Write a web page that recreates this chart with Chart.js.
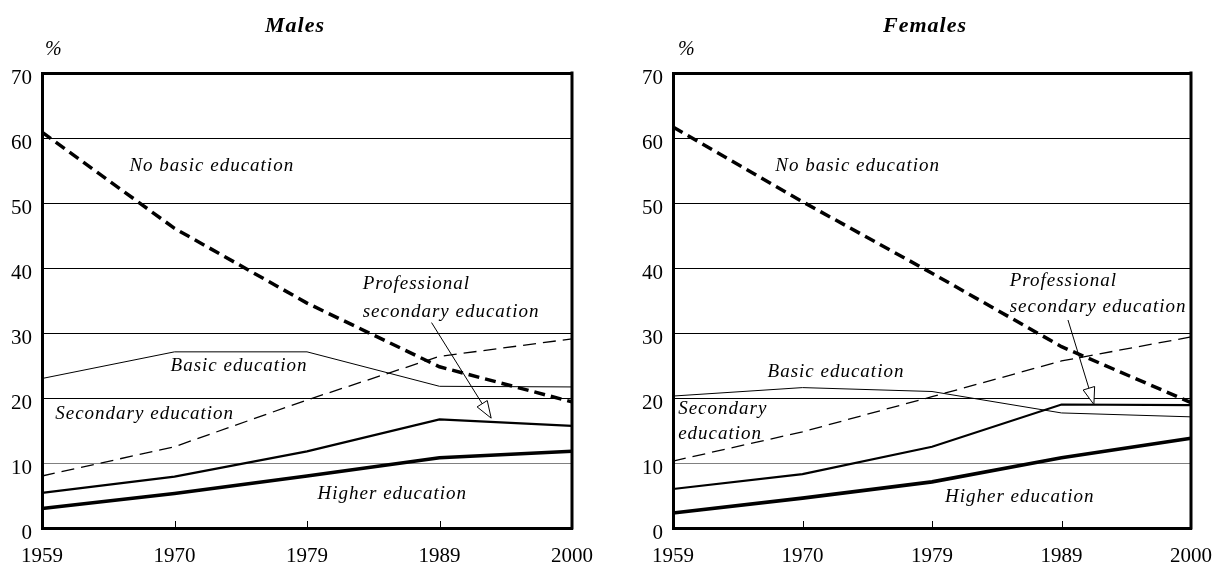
<!DOCTYPE html>
<html>
<head>
<meta charset="utf-8">
<script src="https://cdn.jsdelivr.net/npm/chart.js@4.4.1/dist/chart.umd.min.js"></script>
<style>
  html, body { margin: 0; padding: 0; background: #fff; }
  #wrap { position: relative; width: 1228px; height: 565px; }
  .pane { position: absolute; top: 0; width: 614px; height: 565px; }
</style>
</head>
<body>
<div id="wrap">
  <div class="pane" style="left:0"><canvas id="malesChart" width="614" height="565"></canvas></div>
  <div class="pane" style="left:614px"><canvas id="femalesChart" width="614" height="565"></canvas></div>
</div>
<script>
const years = ["1959", "1970", "1979", "1989", "2000"];

// males, % of population
const maleNoBasic = [60.9, 46.1, 34.6, 24.8, 19.4];
const maleBasic = [23.0, 27.1, 27.1, 21.8, 21.7];
const maleSecondary = [8.0, 12.5, 19.7, 26.4, 29.1];
const maleProfessional = [5.4, 7.9, 11.8, 16.7, 15.7];
const maleHigher = [3.0, 5.3, 8.0, 10.8, 11.8];

// females, % of population
const femaleNoBasic = [61.7, 50.2, 39.2, 27.9, 19.3];
const femaleBasic = [20.3, 21.6, 21.0, 17.7, 17.1];
const femaleSecondary = [10.3, 14.8, 20.2, 25.7, 29.4];
const femaleProfessional = [6.0, 8.3, 12.5, 19.0, 18.9];
const femaleHigher = [2.3, 4.6, 7.1, 10.8, 13.8];

const SERIF = '"Liberation Serif", "Times New Roman", serif';

// in-chart labels, placed in data units (x = category index, y = %)
const maleNotes = [
  { text: "No basic education", x: 0.66, y: 55.7 },
  { text: "Basic education", x: 0.97, y: 25.0 },
  { text: "Secondary education", x: 0.1, y: 17.6 },
  { text: "Professional", x: 2.42, y: 37.5 },
  { text: "secondary education", x: 2.42, y: 33.3 },
  { text: "Higher education", x: 2.08, y: 5.3 },
];
const maleArrow = { from: [2.94, 31.6], to: [3.39, 16.9] };

const femaleNotes = [
  { text: "No basic education", x: 0.79, y: 55.7 },
  { text: "Basic education", x: 0.73, y: 24.0 },
  { text: "Secondary", x: 0.04, y: 18.3 },
  { text: "education", x: 0.04, y: 14.4 },
  { text: "Professional", x: 2.6, y: 38.0 },
  { text: "secondary education", x: 2.6, y: 34.0 },
  { text: "Higher education", x: 2.1, y: 4.8 },
];
const femaleArrow = { from: [3.05, 32.0], to: [3.25, 19.0] };

const overlay = {
  id: "overlay",
  afterDatasetsDraw(chart, args, opts) {
    const { ctx, scales } = chart;
    const x = scales.x, y = scales.y;
    ctx.save();
    ctx.fillStyle = "#000";
    ctx.font = "italic 19px " + SERIF;
    ctx.letterSpacing = "1px";
    ctx.textAlign = "left";
    ctx.textBaseline = "middle";
    opts.notes.forEach((n) => {
      ctx.fillText(n.text, x.getPixelForValue(n.x), y.getPixelForValue(n.y));
    });
    ctx.letterSpacing = "0px";

    // arrow with an open head
    const x0 = x.getPixelForValue(opts.arrow.from[0]);
    const y0 = y.getPixelForValue(opts.arrow.from[1]);
    const x1 = x.getPixelForValue(opts.arrow.to[0]);
    const y1 = y.getPixelForValue(opts.arrow.to[1]);
    const ang = Math.atan2(y1 - y0, x1 - x0);
    const len = 17, half = 6;
    const bx = x1 - len * Math.cos(ang), by = y1 - len * Math.sin(ang);
    ctx.strokeStyle = "#000";
    ctx.lineWidth = 1;
    ctx.beginPath();
    ctx.moveTo(x0, y0);
    ctx.lineTo(bx, by);
    ctx.stroke();
    ctx.beginPath();
    ctx.moveTo(x1, y1);
    ctx.lineTo(bx + half * Math.sin(ang), by - half * Math.cos(ang));
    ctx.lineTo(bx - half * Math.sin(ang), by + half * Math.cos(ang));
    ctx.closePath();
    ctx.fillStyle = "#fff";
    ctx.fill();
    ctx.stroke();
    ctx.restore();
  },
  afterDraw(chart, args, opts) {
    const { ctx, chartArea: a, scales } = chart;
    ctx.save();
    ctx.strokeStyle = "#000";
    ctx.fillStyle = "#000";
    // right frame
    ctx.lineWidth = 3;
    ctx.beginPath();
    ctx.moveTo(a.right, a.top - 1.5);
    ctx.lineTo(a.right, a.bottom + 1.5);
    ctx.stroke();
    // small inner ticks on the year axis
    ctx.lineWidth = 1;
    for (let i = 1; i < years.length - 1; i++) {
      const px = Math.round(scales.x.getPixelForValue(i)) + 0.5;
      ctx.beginPath();
      ctx.moveTo(px, a.bottom);
      ctx.lineTo(px, a.bottom - 7);
      ctx.stroke();
    }
    // title and unit
    ctx.font = "bold italic 22px " + SERIF;
    ctx.letterSpacing = "1px";
    ctx.textAlign = "center";
    ctx.textBaseline = "alphabetic";
    ctx.fillText(opts.title, (a.left + a.right) / 2 + opts.titleShift, 32);
    ctx.letterSpacing = "0px";
    ctx.font = "italic 20px " + SERIF;
    ctx.textAlign = "left";
    ctx.fillText("%", a.left + 3 + opts.unitShift, 55);
    ctx.restore();
  },
};

function makeChart(id, title, s, notes, arrow, layout) {
  const ctx = document.getElementById(id).getContext("2d");
  const line = (data, width, dash) => ({
    data: data,
    borderColor: "#000",
    borderWidth: width,
    borderDash: dash,
    pointRadius: 0,
    tension: 0,
    fill: false,
    clip: false,
  });
  const config = {
    type: "line",
    data: {
      labels: years,
      datasets: [
        line(s.noBasic, 3.5, [11, 6]),
        line(s.basic, 1, []),
        line(s.secondary, 1.3, [13, 7]),
        line(s.professional, 2.2, []),
        line(s.higher, 3.6, []),
      ],
    },
    options: {
      responsive: false,
      animation: false,
      layout: {
        padding: { top: 73, right: layout.padRight, bottom: 0, left: 0 },
      },
      plugins: {
        legend: { display: false },
        tooltip: { enabled: false },
        overlay: {
          title: title,
          titleShift: layout.titleShift,
          unitShift: layout.unitShift,
          notes: notes,
          arrow: arrow,
        },
      },
      scales: {
        x: {
          offset: false,
          grid: { display: false, drawTicks: false },
          border: { display: true, width: 3, color: "#000" },
          ticks: {
            color: "#000",
            font: { family: SERIF, size: 21 },
            padding: 16,
            autoSkip: false,
            maxRotation: 0,
          },
          afterFit: (scale) => {
            scale.height = 37;
          },
        },
        y: {
          min: 0,
          max: 70,
          grid: {
            drawTicks: false,
            color: (c) => (c.tick && c.tick.value === 10 ? "#808080" : "#000"),
            lineWidth: (c) => (c.tick && c.tick.value === 70 ? 3 : 1),
          },
          border: { display: true, width: 3, color: "#000" },
          ticks: {
            stepSize: 10,
            color: "#000",
            font: { family: SERIF, size: 21 },
            padding: 10,
            labelOffset: 5,
          },
          afterFit: (scale) => {
            scale.width = layout.left;
          },
        },
      },
    },
    plugins: [overlay],
  };
  return new Chart(ctx, config);
}

makeChart(
  "malesChart",
  "Males",
  {
    noBasic: maleNoBasic,
    basic: maleBasic,
    secondary: maleSecondary,
    professional: maleProfessional,
    higher: maleHigher,
  },
  maleNotes,
  maleArrow,
  { left: 42, padRight: 42, titleShift: -12, unitShift: 0 }
);

makeChart(
  "femalesChart",
  "Females",
  {
    noBasic: femaleNoBasic,
    basic: femaleBasic,
    secondary: femaleSecondary,
    professional: femaleProfessional,
    higher: femaleHigher,
  },
  femaleNotes,
  femaleArrow,
  { left: 59, padRight: 25, titleShift: -7, unitShift: 2 }
);
</script>
</body>
</html>
